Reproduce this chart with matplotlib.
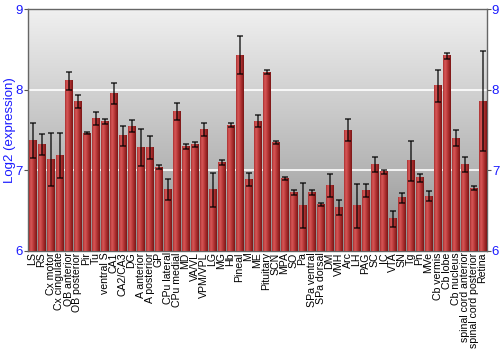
import numpy as np
import matplotlib
matplotlib.use('Agg')
import matplotlib.pyplot as plt
from matplotlib.colors import LinearSegmentedColormap

plt.rcParams['font.family'] = ['Liberation Sans', 'DejaVu Sans']

# jaringan / region
regions = ['LS', 'RS', 'Cx motor', 'Cx cingulate', 'OB anterior', 'OB posterior', 'Pir', 'Tu',
           'ventral S', 'CA1', 'CA2/CA3', 'DG', 'A anterior', 'A posterior', 'GP', 'CPu lateral',
           'CPu medial', 'MD', 'VA/VL', 'VPM/VPL', 'LG', 'MG', 'Hb', 'Pineal', 'M', 'ME',
           'Pituitary', 'SCN', 'MPA', 'SO', 'Pa', 'SPa ventral', 'SPa dorsal', 'DM', 'VMH', 'Arc',
           'LH', 'PAG', 'SC', 'IC', 'VTA', 'SN', 'Tg', 'Pn', 'MVe', 'Cb vermis', 'Cb lobe',
           'Cb nucleus', 'spinal cord anterior', 'spinal cord posterior', 'Retina']

expression = [7.37, 7.32, 7.13, 7.18, 8.11, 7.85, 7.46, 7.64, 7.61, 7.95, 7.43, 7.55, 7.28, 7.28,
              7.04, 6.76, 7.73, 7.30, 7.32, 7.51, 6.76, 7.10, 7.56, 8.43, 6.89, 7.61,
              8.22, 7.35, 6.90, 6.73, 6.56, 6.73, 6.58, 6.81, 6.54, 7.50,
              6.56, 6.75, 7.07, 6.98, 6.40, 6.66, 7.12, 6.91, 6.68, 8.05, 8.42,
              7.40, 7.07, 6.78, 7.86]

error = [0.22, 0.125, 0.33, 0.28, 0.11, 0.08, 0.012, 0.08, 0.03, 0.13, 0.125, 0.08, 0.23, 0.14,
         0.025, 0.13, 0.10, 0.03, 0.035, 0.08, 0.21, 0.03, 0.025, 0.24, 0.08, 0.075,
         0.03, 0.02, 0.02, 0.03, 0.28, 0.03, 0.02, 0.14, 0.09, 0.135,
         0.27, 0.08, 0.095, 0.02, 0.10, 0.06, 0.25, 0.05, 0.065, 0.20, 0.04,
         0.10, 0.09, 0.03, 0.62]

ymin, ymax = 6, 9
blue = '#1a1aff'

fig = plt.figure(figsize=(5, 3.5), dpi=100)
ax = fig.add_axes([0.056, 0.283, 0.918, 0.691])

x = np.arange(len(regions))
ax.set_xlim(-0.5, len(regions) - 0.5)
ax.set_ylim(ymin, ymax)

# latar belakang gradasi abu-abu
bg = np.linspace(0, 1, 256).reshape(-1, 1)
bg_cmap = LinearSegmentedColormap.from_list('bg', ['#8c8c8c', '#b4b4b4', '#d2d2d2', '#f0f0f0'])
ax.imshow(bg, cmap=bg_cmap, aspect='auto', origin='lower',
          extent=[-0.5, len(regions) - 0.5, ymin, ymax], zorder=0)

for yv in [7, 8]:
    ax.axhline(yv, color='white', lw=1.2, zorder=1)

bars = ax.bar(x, np.array(expression) - ymin, bottom=ymin, width=0.88,
              color='#b03232', zorder=2, linewidth=0)

# gradasi horizontal di tiap batang
bar_cmap = LinearSegmentedColormap.from_list('bar', ['#a83030', '#d85858', '#c04040', '#a02828', '#7a1616'])
grad = np.linspace(0, 1, 64).reshape(1, -1)
for b in bars:
    x0, y0 = b.get_x(), b.get_y()
    ax.imshow(grad, cmap=bar_cmap, aspect='auto',
              extent=[x0, x0 + b.get_width(), y0, y0 + b.get_height()], zorder=3)

ax.errorbar(x, expression, yerr=error, fmt='none', ecolor='black', elinewidth=1.1,
            capsize=2.5, capthick=1.1, alpha=0.8, zorder=4)

ax.set_xlim(-0.5, len(regions) - 0.5)
ax.set_ylim(ymin, ymax)

ax.set_xticks(x)
ax.set_xticklabels(regions, rotation=90, fontsize=7.6)
ax.tick_params(axis='x', length=0, pad=1)
ax.set_yticks([6, 7, 8, 9])
ax.tick_params(axis='y', colors='#555555', labelcolor=blue, labelsize=9.5, length=3,
               left=True, right=True, labelleft=True, labelright=True, pad=0.5)
ax.set_ylabel('Log2 (expression)', color=blue, fontsize=9.5, labelpad=0)

for s in ax.spines.values():
    s.set_color('#666666')
    s.set_linewidth(1)

fig.savefig('out.png', dpi=100)
